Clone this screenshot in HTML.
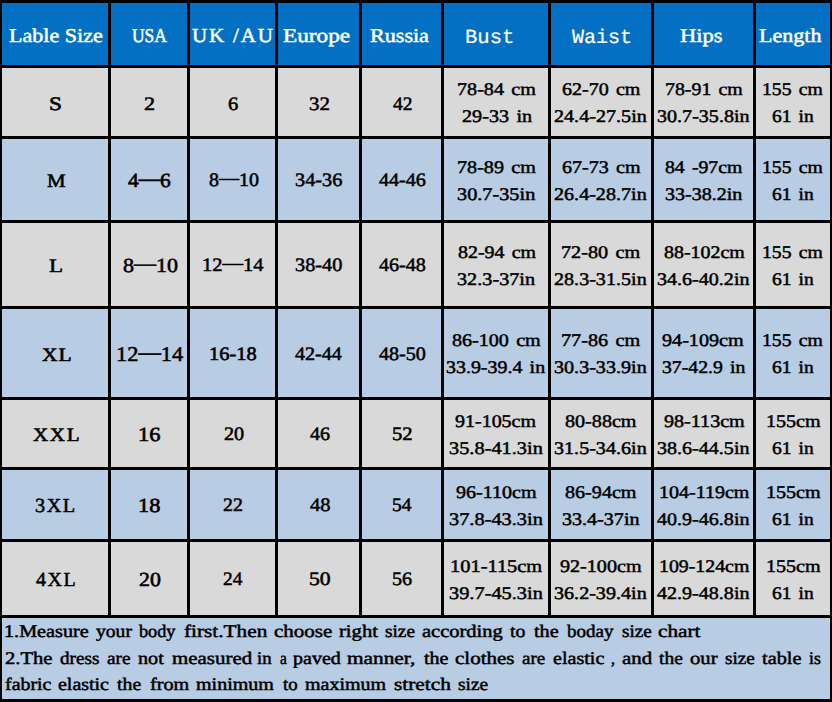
<!DOCTYPE html>
<html lang="en">
<head>
<meta charset="utf-8">
<title>Size Chart</title>
<style>
html,body{margin:0;padding:0;}
body{width:832px;height:702px;background:#000;position:relative;overflow:hidden;font-family:"Liberation Serif",serif;}
.c{position:absolute;}
.h{background:#0470c4;}
.g{background:#d9d9d9;}
.b{background:#b8cce4;}
.d{font-style:normal;position:relative;top:-0.12em;}
.t{position:absolute;white-space:pre;line-height:1;transform-origin:0 0;display:block;text-rendering:geometricPrecision;}
</style>
</head>
<body>
<div class="c h" style="left:2px;top:3px;width:106px;height:62px"></div>
<div class="c h" style="left:111px;top:3px;width:76px;height:62px"></div>
<div class="c h" style="left:190px;top:3px;width:85px;height:62px"></div>
<div class="c h" style="left:278px;top:3px;width:81px;height:62px"></div>
<div class="c h" style="left:362px;top:3px;width:79px;height:62px"></div>
<div class="c h" style="left:444px;top:3px;width:104px;height:62px"></div>
<div class="c h" style="left:551px;top:3px;width:100px;height:62px"></div>
<div class="c h" style="left:654px;top:3px;width:99px;height:62px"></div>
<div class="c h" style="left:756px;top:3px;width:74px;height:62px"></div>
<div class="c g" style="left:2px;top:68px;width:106px;height:68px"></div>
<div class="c g" style="left:111px;top:68px;width:76px;height:68px"></div>
<div class="c g" style="left:190px;top:68px;width:85px;height:68px"></div>
<div class="c g" style="left:278px;top:68px;width:81px;height:68px"></div>
<div class="c g" style="left:362px;top:68px;width:79px;height:68px"></div>
<div class="c g" style="left:444px;top:68px;width:104px;height:68px"></div>
<div class="c g" style="left:551px;top:68px;width:100px;height:68px"></div>
<div class="c g" style="left:654px;top:68px;width:99px;height:68px"></div>
<div class="c g" style="left:756px;top:68px;width:74px;height:68px"></div>
<div class="c b" style="left:2px;top:139px;width:106px;height:81px"></div>
<div class="c b" style="left:111px;top:139px;width:76px;height:81px"></div>
<div class="c b" style="left:190px;top:139px;width:85px;height:81px"></div>
<div class="c b" style="left:278px;top:139px;width:81px;height:81px"></div>
<div class="c b" style="left:362px;top:139px;width:79px;height:81px"></div>
<div class="c b" style="left:444px;top:139px;width:104px;height:81px"></div>
<div class="c b" style="left:551px;top:139px;width:100px;height:81px"></div>
<div class="c b" style="left:654px;top:139px;width:99px;height:81px"></div>
<div class="c b" style="left:756px;top:139px;width:74px;height:81px"></div>
<div class="c g" style="left:2px;top:223px;width:106px;height:83px"></div>
<div class="c g" style="left:111px;top:223px;width:76px;height:83px"></div>
<div class="c g" style="left:190px;top:223px;width:85px;height:83px"></div>
<div class="c g" style="left:278px;top:223px;width:81px;height:83px"></div>
<div class="c g" style="left:362px;top:223px;width:79px;height:83px"></div>
<div class="c g" style="left:444px;top:223px;width:104px;height:83px"></div>
<div class="c g" style="left:551px;top:223px;width:100px;height:83px"></div>
<div class="c g" style="left:654px;top:223px;width:99px;height:83px"></div>
<div class="c g" style="left:756px;top:223px;width:74px;height:83px"></div>
<div class="c b" style="left:2px;top:309px;width:106px;height:88px"></div>
<div class="c b" style="left:111px;top:309px;width:76px;height:88px"></div>
<div class="c b" style="left:190px;top:309px;width:85px;height:88px"></div>
<div class="c b" style="left:278px;top:309px;width:81px;height:88px"></div>
<div class="c b" style="left:362px;top:309px;width:79px;height:88px"></div>
<div class="c b" style="left:444px;top:309px;width:104px;height:88px"></div>
<div class="c b" style="left:551px;top:309px;width:100px;height:88px"></div>
<div class="c b" style="left:654px;top:309px;width:99px;height:88px"></div>
<div class="c b" style="left:756px;top:309px;width:74px;height:88px"></div>
<div class="c g" style="left:2px;top:400px;width:106px;height:67px"></div>
<div class="c g" style="left:111px;top:400px;width:76px;height:67px"></div>
<div class="c g" style="left:190px;top:400px;width:85px;height:67px"></div>
<div class="c g" style="left:278px;top:400px;width:81px;height:67px"></div>
<div class="c g" style="left:362px;top:400px;width:79px;height:67px"></div>
<div class="c g" style="left:444px;top:400px;width:104px;height:67px"></div>
<div class="c g" style="left:551px;top:400px;width:100px;height:67px"></div>
<div class="c g" style="left:654px;top:400px;width:99px;height:67px"></div>
<div class="c g" style="left:756px;top:400px;width:74px;height:67px"></div>
<div class="c b" style="left:2px;top:470px;width:106px;height:69px"></div>
<div class="c b" style="left:111px;top:470px;width:76px;height:69px"></div>
<div class="c b" style="left:190px;top:470px;width:85px;height:69px"></div>
<div class="c b" style="left:278px;top:470px;width:81px;height:69px"></div>
<div class="c b" style="left:362px;top:470px;width:79px;height:69px"></div>
<div class="c b" style="left:444px;top:470px;width:104px;height:69px"></div>
<div class="c b" style="left:551px;top:470px;width:100px;height:69px"></div>
<div class="c b" style="left:654px;top:470px;width:99px;height:69px"></div>
<div class="c b" style="left:756px;top:470px;width:74px;height:69px"></div>
<div class="c g" style="left:2px;top:542px;width:106px;height:73px"></div>
<div class="c g" style="left:111px;top:542px;width:76px;height:73px"></div>
<div class="c g" style="left:190px;top:542px;width:85px;height:73px"></div>
<div class="c g" style="left:278px;top:542px;width:81px;height:73px"></div>
<div class="c g" style="left:362px;top:542px;width:79px;height:73px"></div>
<div class="c g" style="left:444px;top:542px;width:104px;height:73px"></div>
<div class="c g" style="left:551px;top:542px;width:100px;height:73px"></div>
<div class="c g" style="left:654px;top:542px;width:99px;height:73px"></div>
<div class="c g" style="left:756px;top:542px;width:74px;height:73px"></div>
<div class="c b" style="left:2px;top:618px;width:828px;height:81px"></div>
<span class="t" id="t0" style="font-size:19.5px;color:#fff;-webkit-text-stroke:0.5px #fff;left:8.50px;top:27.20px;transform:scaleX(1.1317);">Lable Size</span>
<span class="t" id="t1" style="font-size:19.5px;color:#fff;-webkit-text-stroke:0.52px #fff;left:132.20px;top:27.30px;transform:scaleX(0.8943);">USA</span>
<span class="t" id="t2" style="font-size:20px;color:#fff;-webkit-text-stroke:0.48px #fff;letter-spacing:1.8px;left:192.40px;top:25.80px;transform:scaleX(1.0465);">UK /AU</span>
<span class="t" id="t3" style="font-size:19.5px;color:#fff;-webkit-text-stroke:0.5px #fff;left:282.51px;top:27.20px;transform:scaleX(1.1913);">Europe</span>
<span class="t" id="t4" style="font-size:19.5px;color:#fff;-webkit-text-stroke:0.5px #fff;left:369.69px;top:27.20px;transform:scaleX(1.1329);">Russia</span>
<span class="t" id="t5" style="font-size:20px;color:#fff;-webkit-text-stroke:0.2px #fff;font-family:'Liberation Mono',monospace;left:465.07px;top:28.60px;transform:scaleX(1.0288);">Bust</span>
<span class="t" id="t6" style="font-size:20px;color:#fff;-webkit-text-stroke:0.2px #fff;font-family:'Liberation Mono',monospace;left:572.20px;top:28.60px;transform:scaleX(0.9999);">Waist</span>
<span class="t" id="t7" style="font-size:19.5px;color:#fff;-webkit-text-stroke:0.5px #fff;left:679.50px;top:27.20px;transform:scaleX(1.1532);">Hips</span>
<span class="t" id="t8" style="font-size:19.5px;color:#fff;-webkit-text-stroke:0.5px #fff;left:759.49px;top:26.80px;transform:scaleX(1.1302);">Length</span>
<span class="t" id="t9" style="font-size:19px;color:#000;-webkit-text-stroke:0.6px #000;left:48.78px;top:94.70px;transform:scaleX(1.2222);">S</span>
<span class="t" id="t10" style="font-size:19px;color:#000;-webkit-text-stroke:0.52px #000;left:144.47px;top:94.70px;transform:scaleX(1.1696);">2</span>
<span class="t" id="t11" style="font-size:19px;color:#000;-webkit-text-stroke:0.52px #000;left:228.47px;top:94.70px;transform:scaleX(1.0801);">6</span>
<span class="t" id="t12" style="font-size:19px;color:#000;-webkit-text-stroke:0.48px #000;left:309.27px;top:94.50px;transform:scaleX(1.1042);">32</span>
<span class="t" id="t13" style="font-size:19px;color:#000;-webkit-text-stroke:0.48px #000;left:393.00px;top:94.50px;transform:scaleX(1.0270);">42</span>
<span class="t" id="t14" style="font-size:17.8px;color:#000;-webkit-text-stroke:0.48px #000;word-spacing:2px;left:456.67px;top:81.30px;transform:scaleX(1.1319);">78-84 cm</span>
<span class="t" id="t15" style="font-size:17.8px;color:#000;-webkit-text-stroke:0.48px #000;word-spacing:2px;left:462.29px;top:108.30px;transform:scaleX(1.1348);">29-33 in</span>
<span class="t" id="t16" style="font-size:17.8px;color:#000;-webkit-text-stroke:0.48px #000;word-spacing:2px;left:561.70px;top:81.30px;transform:scaleX(1.1259);">62-70 cm</span>
<span class="t" id="t17" style="font-size:17.8px;color:#000;-webkit-text-stroke:0.48px #000;left:554.29px;top:108.30px;transform:scaleX(1.1317);">24.4-27.5in</span>
<span class="t" id="t18" style="font-size:17.8px;color:#000;-webkit-text-stroke:0.48px #000;word-spacing:2px;left:664.68px;top:81.30px;transform:scaleX(1.1174);">78-91 cm</span>
<span class="t" id="t19" style="font-size:17.8px;color:#000;-webkit-text-stroke:0.48px #000;left:657.49px;top:108.30px;transform:scaleX(1.1293);">30.7-35.8in</span>
<span class="t" id="t20" style="font-size:17.8px;color:#000;-webkit-text-stroke:0.48px #000;word-spacing:2px;left:761.78px;top:81.30px;transform:scaleX(1.1074);">155 cm</span>
<span class="t" id="t21" style="font-size:17.8px;color:#000;-webkit-text-stroke:0.48px #000;word-spacing:2px;left:771.89px;top:108.30px;transform:scaleX(1.0955);">61 in</span>
<span class="t" id="t22" style="font-size:19px;color:#000;-webkit-text-stroke:0.58px #000;left:46.80px;top:171.70px;transform:scaleX(1.1006);">M</span>
<span class="t" id="t23" style="font-size:20px;color:#000;-webkit-text-stroke:0.6px #000;left:128.20px;top:171.20px;transform:scaleX(1.0701);">4<i class="d">—</i>6</span>
<span class="t" id="t24" style="font-size:19px;color:#000;-webkit-text-stroke:0.52px #000;left:208.70px;top:171.40px;transform:scaleX(1.0533);">8<i class="d">—</i>10</span>
<span class="t" id="t25" style="font-size:19px;color:#000;-webkit-text-stroke:0.52px #000;left:294.70px;top:171.40px;transform:scaleX(1.0679);">34-36</span>
<span class="t" id="t26" style="font-size:19px;color:#000;-webkit-text-stroke:0.52px #000;left:378.80px;top:171.40px;transform:scaleX(1.0588);">44-46</span>
<span class="t" id="t27" style="font-size:17.8px;color:#000;-webkit-text-stroke:0.48px #000;word-spacing:2px;left:456.67px;top:158.90px;transform:scaleX(1.1319);">78-89 cm</span>
<span class="t" id="t28" style="font-size:17.8px;color:#000;-webkit-text-stroke:0.48px #000;left:457.29px;top:186.30px;transform:scaleX(1.1403);">30.7-35in</span>
<span class="t" id="t29" style="font-size:17.8px;color:#000;-webkit-text-stroke:0.48px #000;word-spacing:2px;left:562.10px;top:158.90px;transform:scaleX(1.1273);">67-73 cm</span>
<span class="t" id="t30" style="font-size:17.8px;color:#000;-webkit-text-stroke:0.48px #000;left:554.29px;top:186.30px;transform:scaleX(1.1305);">26.4-28.7in</span>
<span class="t" id="t31" style="font-size:17.8px;color:#000;-webkit-text-stroke:0.48px #000;word-spacing:2px;left:664.70px;top:158.90px;transform:scaleX(1.1102);">84 -97cm</span>
<span class="t" id="t32" style="font-size:17.8px;color:#000;-webkit-text-stroke:0.48px #000;left:664.70px;top:186.30px;transform:scaleX(1.1273);">33-38.2in</span>
<span class="t" id="t33" style="font-size:17.8px;color:#000;-webkit-text-stroke:0.48px #000;word-spacing:2px;left:761.78px;top:158.90px;transform:scaleX(1.1074);">155 cm</span>
<span class="t" id="t34" style="font-size:17.8px;color:#000;-webkit-text-stroke:0.48px #000;word-spacing:2px;left:771.89px;top:186.30px;transform:scaleX(1.0955);">61 in</span>
<span class="t" id="t35" style="font-size:19px;color:#000;-webkit-text-stroke:0.52px #000;left:49.48px;top:257.00px;transform:scaleX(1.2128);">L</span>
<span class="t" id="t36" style="font-size:20px;color:#000;-webkit-text-stroke:0.52px #000;left:122.70px;top:256.00px;transform:scaleX(1.1022);">8<i class="d">—</i>10</span>
<span class="t" id="t37" style="font-size:19px;color:#000;-webkit-text-stroke:0.5px #000;left:202.41px;top:256.40px;transform:scaleX(1.0799);">12<i class="d">—</i>14</span>
<span class="t" id="t38" style="font-size:19px;color:#000;-webkit-text-stroke:0.52px #000;left:294.70px;top:256.40px;transform:scaleX(1.0679);">38-40</span>
<span class="t" id="t39" style="font-size:19px;color:#000;-webkit-text-stroke:0.52px #000;left:378.80px;top:256.40px;transform:scaleX(1.0588);">46-48</span>
<span class="t" id="t40" style="font-size:17.8px;color:#000;-webkit-text-stroke:0.48px #000;word-spacing:2px;left:457.50px;top:244.10px;transform:scaleX(1.1202);">82-94 cm</span>
<span class="t" id="t41" style="font-size:17.8px;color:#000;-webkit-text-stroke:0.48px #000;left:457.49px;top:271.20px;transform:scaleX(1.1374);">32.3-37in</span>
<span class="t" id="t42" style="font-size:17.8px;color:#000;-webkit-text-stroke:0.48px #000;word-spacing:2px;left:561.46px;top:244.10px;transform:scaleX(1.1363);">72-80 cm</span>
<span class="t" id="t43" style="font-size:17.8px;color:#000;-webkit-text-stroke:0.48px #000;left:554.29px;top:271.20px;transform:scaleX(1.1305);">28.3-31.5in</span>
<span class="t" id="t44" style="font-size:17.8px;color:#000;-webkit-text-stroke:0.48px #000;left:663.70px;top:244.10px;transform:scaleX(1.1196);">88-102cm</span>
<span class="t" id="t45" style="font-size:17.8px;color:#000;-webkit-text-stroke:0.48px #000;left:656.89px;top:271.20px;transform:scaleX(1.1280);">34.6-40.2in</span>
<span class="t" id="t46" style="font-size:17.8px;color:#000;-webkit-text-stroke:0.48px #000;word-spacing:2px;left:761.78px;top:244.10px;transform:scaleX(1.1074);">155 cm</span>
<span class="t" id="t47" style="font-size:17.8px;color:#000;-webkit-text-stroke:0.48px #000;word-spacing:2px;left:771.89px;top:271.20px;transform:scaleX(1.0955);">61 in</span>
<span class="t" id="t48" style="font-size:19px;color:#000;-webkit-text-stroke:0.6px #000;letter-spacing:1px;left:41.80px;top:346.30px;transform:scaleX(1.1275);">XL</span>
<span class="t" id="t49" style="font-size:21px;color:#000;-webkit-text-stroke:0.52px #000;left:115.63px;top:344.30px;transform:scaleX(1.0659);">12<i class="d">—</i>14</span>
<span class="t" id="t50" style="font-size:19px;color:#000;-webkit-text-stroke:0.6px #000;left:209.23px;top:345.20px;transform:scaleX(1.0741);">16-18</span>
<span class="t" id="t51" style="font-size:19px;color:#000;-webkit-text-stroke:0.52px #000;left:295.21px;top:345.20px;transform:scaleX(1.0554);">42-44</span>
<span class="t" id="t52" style="font-size:19px;color:#000;-webkit-text-stroke:0.52px #000;left:378.80px;top:345.20px;transform:scaleX(1.0588);">48-50</span>
<span class="t" id="t53" style="font-size:17.8px;color:#000;-webkit-text-stroke:0.48px #000;word-spacing:2px;left:452.29px;top:332.20px;transform:scaleX(1.1297);">86-100 cm</span>
<span class="t" id="t54" style="font-size:17.8px;color:#000;-webkit-text-stroke:0.48px #000;word-spacing:2px;left:446.49px;top:359.10px;transform:scaleX(1.1205);">33.9-39.4 in</span>
<span class="t" id="t55" style="font-size:17.8px;color:#000;-webkit-text-stroke:0.48px #000;word-spacing:2px;left:561.46px;top:332.20px;transform:scaleX(1.1363);">77-86 cm</span>
<span class="t" id="t56" style="font-size:17.8px;color:#000;-webkit-text-stroke:0.48px #000;left:554.29px;top:359.10px;transform:scaleX(1.1305);">30.3-33.9in</span>
<span class="t" id="t57" style="font-size:17.8px;color:#000;-webkit-text-stroke:0.48px #000;left:662.40px;top:332.20px;transform:scaleX(1.1320);">94-109cm</span>
<span class="t" id="t58" style="font-size:17.8px;color:#000;-webkit-text-stroke:0.48px #000;word-spacing:2px;left:661.89px;top:359.10px;transform:scaleX(1.1104);">37-42.9 in</span>
<span class="t" id="t59" style="font-size:17.8px;color:#000;-webkit-text-stroke:0.48px #000;word-spacing:2px;left:761.78px;top:332.20px;transform:scaleX(1.1074);">155 cm</span>
<span class="t" id="t60" style="font-size:17.8px;color:#000;-webkit-text-stroke:0.48px #000;word-spacing:2px;left:771.89px;top:359.10px;transform:scaleX(1.0955);">61 in</span>
<span class="t" id="t61" style="font-size:19px;color:#000;-webkit-text-stroke:0.6px #000;letter-spacing:1.5px;left:33.20px;top:425.70px;transform:scaleX(1.1052);">XXL</span>
<span class="t" id="t62" style="font-size:20px;color:#000;-webkit-text-stroke:0.6px #000;left:137.57px;top:425.00px;transform:scaleX(1.1223);">16</span>
<span class="t" id="t63" style="font-size:19px;color:#000;-webkit-text-stroke:0.52px #000;left:223.50px;top:425.20px;transform:scaleX(1.0654);">20</span>
<span class="t" id="t64" style="font-size:19px;color:#000;-webkit-text-stroke:0.52px #000;left:309.81px;top:425.30px;transform:scaleX(1.0547);">46</span>
<span class="t" id="t65" style="font-size:19px;color:#000;-webkit-text-stroke:0.52px #000;left:391.91px;top:425.30px;transform:scaleX(1.0857);">52</span>
<span class="t" id="t66" style="font-size:17.8px;color:#000;-webkit-text-stroke:0.48px #000;left:455.49px;top:412.90px;transform:scaleX(1.1238);">91-105cm</span>
<span class="t" id="t67" style="font-size:17.8px;color:#000;-webkit-text-stroke:0.48px #000;left:449.29px;top:440.30px;transform:scaleX(1.1451);">35.8-41.3in</span>
<span class="t" id="t68" style="font-size:17.8px;color:#000;-webkit-text-stroke:0.48px #000;left:565.29px;top:412.90px;transform:scaleX(1.1315);">80-88cm</span>
<span class="t" id="t69" style="font-size:17.8px;color:#000;-webkit-text-stroke:0.48px #000;left:554.29px;top:440.30px;transform:scaleX(1.1305);">31.5-34.6in</span>
<span class="t" id="t70" style="font-size:17.8px;color:#000;-webkit-text-stroke:0.48px #000;left:663.70px;top:412.90px;transform:scaleX(1.1300);">98-113cm</span>
<span class="t" id="t71" style="font-size:17.8px;color:#000;-webkit-text-stroke:0.48px #000;left:656.89px;top:440.30px;transform:scaleX(1.1280);">38.6-44.5in</span>
<span class="t" id="t72" style="font-size:17.8px;color:#000;-webkit-text-stroke:0.48px #000;left:765.56px;top:412.90px;transform:scaleX(1.1293);">155cm</span>
<span class="t" id="t73" style="font-size:17.8px;color:#000;-webkit-text-stroke:0.48px #000;word-spacing:2px;left:771.89px;top:440.30px;transform:scaleX(1.0955);">61 in</span>
<span class="t" id="t74" style="font-size:20px;color:#000;-webkit-text-stroke:0.5px #000;letter-spacing:1.5px;left:35.49px;top:496.30px;transform:scaleX(1.0148);">3XL</span>
<span class="t" id="t75" style="font-size:20px;color:#000;-webkit-text-stroke:0.6px #000;left:137.58px;top:495.80px;transform:scaleX(1.1223);">18</span>
<span class="t" id="t76" style="font-size:19px;color:#000;-webkit-text-stroke:0.5px #000;left:223.49px;top:496.20px;transform:scaleX(1.0447);">22</span>
<span class="t" id="t77" style="font-size:19px;color:#000;-webkit-text-stroke:0.52px #000;left:309.80px;top:496.20px;transform:scaleX(1.0811);">48</span>
<span class="t" id="t78" style="font-size:19px;color:#000;-webkit-text-stroke:0.52px #000;left:392.47px;top:496.20px;transform:scaleX(1.0270);">54</span>
<span class="t" id="t79" style="font-size:17.8px;color:#000;-webkit-text-stroke:0.48px #000;left:456.00px;top:484.10px;transform:scaleX(1.1271);">96-110cm</span>
<span class="t" id="t80" style="font-size:17.8px;color:#000;-webkit-text-stroke:0.48px #000;left:449.29px;top:511.20px;transform:scaleX(1.1451);">37.8-43.3in</span>
<span class="t" id="t81" style="font-size:17.8px;color:#000;-webkit-text-stroke:0.48px #000;left:565.29px;top:484.10px;transform:scaleX(1.1315);">86-94cm</span>
<span class="t" id="t82" style="font-size:17.8px;color:#000;-webkit-text-stroke:0.48px #000;left:562.49px;top:511.20px;transform:scaleX(1.1287);">33.4-37in</span>
<span class="t" id="t83" style="font-size:17.8px;color:#000;-webkit-text-stroke:0.48px #000;left:659.17px;top:484.10px;transform:scaleX(1.1247);">104-119cm</span>
<span class="t" id="t84" style="font-size:17.8px;color:#000;-webkit-text-stroke:0.48px #000;left:657.40px;top:511.20px;transform:scaleX(1.1280);">40.9-46.8in</span>
<span class="t" id="t85" style="font-size:17.8px;color:#000;-webkit-text-stroke:0.48px #000;left:765.56px;top:484.10px;transform:scaleX(1.1293);">155cm</span>
<span class="t" id="t86" style="font-size:17.8px;color:#000;-webkit-text-stroke:0.48px #000;word-spacing:2px;left:771.89px;top:511.20px;transform:scaleX(1.0955);">61 in</span>
<span class="t" id="t87" style="font-size:20px;color:#000;-webkit-text-stroke:0.5px #000;letter-spacing:1.5px;left:36.00px;top:570.00px;transform:scaleX(1.0016);">4XL</span>
<span class="t" id="t88" style="font-size:20px;color:#000;-webkit-text-stroke:0.6px #000;left:138.68px;top:570.20px;transform:scaleX(1.0922);">20</span>
<span class="t" id="t89" style="font-size:19px;color:#000;-webkit-text-stroke:0.5px #000;left:223.46px;top:570.40px;transform:scaleX(1.0195);">24</span>
<span class="t" id="t90" style="font-size:19px;color:#000;-webkit-text-stroke:0.52px #000;left:308.66px;top:570.40px;transform:scaleX(1.1429);">50</span>
<span class="t" id="t91" style="font-size:19px;color:#000;-webkit-text-stroke:0.52px #000;left:391.94px;top:570.40px;transform:scaleX(1.0579);">56</span>
<span class="t" id="t92" style="font-size:17.8px;color:#000;-webkit-text-stroke:0.48px #000;left:449.55px;top:557.80px;transform:scaleX(1.1485);">101-115cm</span>
<span class="t" id="t93" style="font-size:17.8px;color:#000;-webkit-text-stroke:0.48px #000;left:449.29px;top:584.90px;transform:scaleX(1.1451);">39.7-45.3in</span>
<span class="t" id="t94" style="font-size:17.8px;color:#000;-webkit-text-stroke:0.48px #000;left:560.29px;top:557.80px;transform:scaleX(1.1307);">92-100cm</span>
<span class="t" id="t95" style="font-size:17.8px;color:#000;-webkit-text-stroke:0.48px #000;left:554.29px;top:584.90px;transform:scaleX(1.1305);">36.2-39.4in</span>
<span class="t" id="t96" style="font-size:17.8px;color:#000;-webkit-text-stroke:0.48px #000;left:659.18px;top:557.80px;transform:scaleX(1.1154);">109-124cm</span>
<span class="t" id="t97" style="font-size:17.8px;color:#000;-webkit-text-stroke:0.48px #000;left:657.40px;top:584.90px;transform:scaleX(1.1280);">42.9-48.8in</span>
<span class="t" id="t98" style="font-size:17.8px;color:#000;-webkit-text-stroke:0.48px #000;left:765.56px;top:557.80px;transform:scaleX(1.1293);">155cm</span>
<span class="t" id="t99" style="font-size:17.8px;color:#000;-webkit-text-stroke:0.48px #000;word-spacing:2px;left:771.89px;top:584.90px;transform:scaleX(1.0955);">61 in</span>
<span class="t" id="t100" style="font-size:17.8px;color:#000;-webkit-text-stroke:0.5px #000;left:4.36px;top:622.90px;transform:scaleX(1.1364);">1.Measure </span>
<span class="t" id="t101" style="font-size:17.8px;color:#000;-webkit-text-stroke:0.5px #000;left:95.80px;top:622.90px;transform:scaleX(1.1019);">your </span>
<span class="t" id="t102" style="font-size:17.8px;color:#000;-webkit-text-stroke:0.5px #000;left:139.20px;top:622.90px;transform:scaleX(1.0261);">body </span>
<span class="t" id="t103" style="font-size:17.8px;color:#000;-webkit-text-stroke:0.5px #000;left:183.70px;top:622.90px;transform:scaleX(1.1961);">first.Then </span>
<span class="t" id="t104" style="font-size:17.8px;color:#000;-webkit-text-stroke:0.5px #000;left:273.69px;top:622.90px;transform:scaleX(1.1785);">choose </span>
<span class="t" id="t105" style="font-size:17.8px;color:#000;-webkit-text-stroke:0.5px #000;left:339.49px;top:622.90px;transform:scaleX(1.1594);">right </span>
<span class="t" id="t106" style="font-size:17.8px;color:#000;-webkit-text-stroke:0.5px #000;left:384.70px;top:622.90px;transform:scaleX(1.0854);">size </span>
<span class="t" id="t107" style="font-size:17.8px;color:#000;-webkit-text-stroke:0.5px #000;left:421.80px;top:622.90px;transform:scaleX(1.1524);">according </span>
<span class="t" id="t108" style="font-size:17.8px;color:#000;-webkit-text-stroke:0.5px #000;left:509.81px;top:622.90px;transform:scaleX(1.1131);">to </span>
<span class="t" id="t109" style="font-size:17.8px;color:#000;-webkit-text-stroke:0.5px #000;left:534.19px;top:622.90px;transform:scaleX(1.1362);">the </span>
<span class="t" id="t110" style="font-size:17.8px;color:#000;-webkit-text-stroke:0.5px #000;left:567.20px;top:622.90px;transform:scaleX(1.0674);">boday </span>
<span class="t" id="t111" style="font-size:17.8px;color:#000;-webkit-text-stroke:0.5px #000;left:621.89px;top:622.90px;transform:scaleX(1.0744);">size </span>
<span class="t" id="t112" style="font-size:17.8px;color:#000;-webkit-text-stroke:0.5px #000;left:658.49px;top:622.90px;transform:scaleX(1.1941);">chart</span>
<span class="t" id="t113" style="font-size:17.8px;color:#000;-webkit-text-stroke:0.5px #000;left:4.69px;top:650.20px;transform:scaleX(1.1588);">2.The </span>
<span class="t" id="t114" style="font-size:17.8px;color:#000;-webkit-text-stroke:0.5px #000;left:60.00px;top:650.20px;transform:scaleX(1.0787);">dress </span>
<span class="t" id="t115" style="font-size:17.8px;color:#000;-webkit-text-stroke:0.5px #000;left:107.21px;top:650.20px;transform:scaleX(1.0821);">are </span>
<span class="t" id="t116" style="font-size:17.8px;color:#000;-webkit-text-stroke:0.5px #000;left:137.70px;top:650.20px;transform:scaleX(1.1327);">not </span>
<span class="t" id="t117" style="font-size:17.8px;color:#000;-webkit-text-stroke:0.5px #000;left:171.70px;top:650.20px;transform:scaleX(1.1769);">measured </span>
<span class="t" id="t118" style="font-size:17.8px;color:#000;-webkit-text-stroke:0.5px #000;left:257.25px;top:650.20px;transform:scaleX(1.0589);">in </span>
<span class="t" id="t119" style="font-size:17.8px;color:#000;-webkit-text-stroke:0.5px #000;left:280.00px;top:650.20px;transform:scaleX(0.8637);">a </span>
<span class="t" id="t120" style="font-size:17.8px;color:#000;-webkit-text-stroke:0.5px #000;left:293.29px;top:650.20px;transform:scaleX(1.1256);">paved </span>
<span class="t" id="t121" style="font-size:17.8px;color:#000;-webkit-text-stroke:0.5px #000;left:347.49px;top:650.20px;transform:scaleX(1.1980);">manner, </span>
<span class="t" id="t122" style="font-size:17.8px;color:#000;-webkit-text-stroke:0.5px #000;left:423.79px;top:650.20px;transform:scaleX(1.1228);">the </span>
<span class="t" id="t123" style="font-size:17.8px;color:#000;-webkit-text-stroke:0.5px #000;left:455.49px;top:650.20px;transform:scaleX(1.1798);">clothes </span>
<span class="t" id="t124" style="font-size:17.8px;color:#000;-webkit-text-stroke:0.5px #000;left:522.39px;top:650.20px;transform:scaleX(1.0640);">are </span>
<span class="t" id="t125" style="font-size:17.8px;color:#000;-webkit-text-stroke:0.5px #000;left:552.70px;top:650.20px;transform:scaleX(1.1295);">elastic </span>
<span class="t" id="t126" style="font-size:17.8px;color:#000;-webkit-text-stroke:0.5px #000;left:610.72px;top:650.20px;transform:scaleX(0.9000);">, </span>
<span class="t" id="t127" style="font-size:17.8px;color:#000;-webkit-text-stroke:0.5px #000;left:622.47px;top:650.20px;transform:scaleX(1.1724);">and </span>
<span class="t" id="t128" style="font-size:17.8px;color:#000;-webkit-text-stroke:0.5px #000;left:659.00px;top:650.20px;transform:scaleX(1.0954);">the </span>
<span class="t" id="t129" style="font-size:17.8px;color:#000;-webkit-text-stroke:0.5px #000;left:689.70px;top:650.20px;transform:scaleX(1.1607);">our </span>
<span class="t" id="t130" style="font-size:17.8px;color:#000;-webkit-text-stroke:0.5px #000;left:725.10px;top:650.20px;transform:scaleX(1.0780);">size </span>
<span class="t" id="t131" style="font-size:17.8px;color:#000;-webkit-text-stroke:0.5px #000;left:761.80px;top:650.20px;transform:scaleX(1.1397);">table </span>
<span class="t" id="t132" style="font-size:17.8px;color:#000;-webkit-text-stroke:0.5px #000;left:808.81px;top:650.20px;transform:scaleX(0.9957);">is</span>
<span class="t" id="t133" style="font-size:17.8px;color:#000;-webkit-text-stroke:0.5px #000;left:5.48px;top:676.40px;transform:scaleX(1.1193);">fabric </span>
<span class="t" id="t134" style="font-size:17.8px;color:#000;-webkit-text-stroke:0.5px #000;left:58.49px;top:676.40px;transform:scaleX(1.1207);">elastic </span>
<span class="t" id="t135" style="font-size:17.8px;color:#000;-webkit-text-stroke:0.5px #000;left:117.20px;top:676.40px;transform:scaleX(1.1136);">the </span>
<span class="t" id="t136" style="font-size:17.8px;color:#000;-webkit-text-stroke:0.5px #000;left:150.28px;top:676.40px;transform:scaleX(1.1351);">from </span>
<span class="t" id="t137" style="font-size:17.8px;color:#000;-webkit-text-stroke:0.5px #000;left:196.29px;top:676.40px;transform:scaleX(1.1267);">minimum </span>
<span class="t" id="t138" style="font-size:17.8px;color:#000;-webkit-text-stroke:0.5px #000;left:282.80px;top:676.40px;transform:scaleX(1.0555);">to </span>
<span class="t" id="t139" style="font-size:17.8px;color:#000;-webkit-text-stroke:0.5px #000;left:304.89px;top:676.40px;transform:scaleX(1.1250);">maximum </span>
<span class="t" id="t140" style="font-size:17.8px;color:#000;-webkit-text-stroke:0.5px #000;left:393.70px;top:676.40px;transform:scaleX(1.2002);">stretch </span>
<span class="t" id="t141" style="font-size:17.8px;color:#000;-webkit-text-stroke:0.5px #000;left:458.28px;top:676.40px;transform:scaleX(1.0892);">size</span>
</body>
</html>
